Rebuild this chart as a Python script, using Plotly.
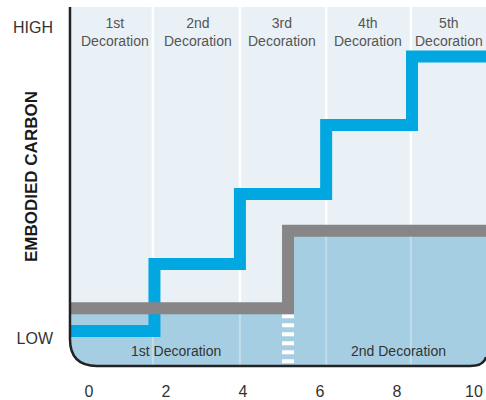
import plotly.graph_objects as go

# ---- data ----
x_ticks = [0, 2, 4, 6, 8, 10]
y_tick_vals = [7.8, 94.2]
y_tick_text = ["LOW", "HIGH"]

# blue step line (horizontal-then-vertical steps)
blue_x = [-0.494, 1.70, 3.92, 6.16, 8.39, 10.6]
blue_y = [9.75, 28.4, 47.9, 67.1, 86.2, 86.2]

# gray step line
gray_x = [-0.494, 5.17, 10.6]
gray_y = [16.1, 37.7, 37.7]

column_edges = [1.66, 3.92, 6.16, 8.36]
top_label_x = [0.675, 2.83, 5.01, 7.25, 9.35]
top_labels = ["1st<br>Decoration", "2nd<br>Decoration", "3rd<br>Decoration",
              "4th<br>Decoration", "5th<br>Decoration"]
bottom_label_x = [2.26, 8.03]
bottom_labels = ["1st Decoration", "2nd Decoration"]

# ---- styling / geometry ----
W, H = 486, 400
ML, MR, MT, MB = 66, 0, 7, 30
X0PX, XSCALE = 89.0, 38.5           # pixel of x=0, px per unit
YBOT = 366.0; YSCALE = 3.59          # pixel of y=0, px per unit
xr = [(ML - X0PX) / XSCALE, (W - MR - X0PX) / XSCALE]
yr = [(YBOT - (H - MB)) / YSCALE, (YBOT - MT) / YSCALE]

XL = -0.494          # left edge of panel (axis)
XR = xr[1]
R = 27
rx, ry = R / XSCALE, R / YSCALE
# right corner (partially cut by image edge)
xrc0 = (470 - X0PX) / XSCALE
xrcc = (484 - X0PX) / XSCALE
yrc1 = (YBOT - 357) / YSCALE

LIGHT = "#E9F1F7"
DARK = "#A6CEE3"
BLUE = "#00A7E1"
GRAY = "#878585"

def bottom_path():
    return (f"L {XL},{ry} Q {XL},0 {XL+rx},0 L {xrc0},0 Q {xrcc},0 {XR},{yrc1} ")

shapes = []
# light background
shapes.append(dict(type="path", layer="below", line=dict(width=0), fillcolor=LIGHT,
                   path=f"M {XL},{yr[1]} " + bottom_path() + f"L {XR},{yr[1]} Z"))
# white column dividers
for e in column_edges:
    shapes.append(dict(type="line", layer="below", x0=e, x1=e, y0=0, y1=yr[1],
                       line=dict(color="white", width=2.5)))
# dark fill under gray step line
p = f"M {XL},{gray_y[0]} " + bottom_path()
p += f"L {XR},{gray_y[-1]} "
p += f"L {gray_x[1]},{gray_y[1]} L {gray_x[1]},{gray_y[0]} L {XL},{gray_y[0]} Z"
shapes.append(dict(type="path", layer="below", line=dict(width=0), fillcolor=DARK, path=p))
# faint dividers over dark fill
for e in column_edges:
    shapes.append(dict(type="line", layer="below", x0=e, x1=e, y0=0, y1=yr[1],
                       line=dict(color="rgba(255,255,255,0.3)", width=2)))
# axis line with rounded corners
shapes.append(dict(type="path", layer="above", line=dict(color="#222222", width=2.5),
                   path=f"M {XL},{yr[1]} " + bottom_path()))

fig = go.Figure()
fig.add_trace(go.Scatter(x=blue_x, y=blue_y, mode="lines", line_shape="hv",
                         line=dict(color=BLUE, width=12), hoverinfo="skip"))
fig.add_trace(go.Scatter(x=[gray_x[1], gray_x[1]], y=[gray_y[0] - 1.7, 0], mode="lines",
                         line=dict(color="white", width=12, dash="4px,5px"), hoverinfo="skip"))
fig.add_trace(go.Scatter(x=gray_x, y=gray_y, mode="lines", line_shape="hv",
                         line=dict(color=GRAY, width=12), hoverinfo="skip"))

annotations = []
for x, t in zip(top_label_x, top_labels):
    annotations.append(dict(x=x, y=92.9, text=t, showarrow=False, xanchor="center",
                            yanchor="middle", font=dict(size=14, color="#555555")))
for x, t in zip(bottom_label_x, bottom_labels):
    annotations.append(dict(x=x, y=4.18, text=t, showarrow=False, xanchor="center",
                            yanchor="middle", font=dict(size=14, color="#333333")))
annotations.append(dict(xref="paper", yref="paper", x=-ML / (W - ML - MR) + 32 / (W - ML - MR),
                        y=(H - MB - 177) / (H - MT - MB), text="<b>EMBODIED CARBON</b>",
                        textangle=-90, showarrow=False, xanchor="center", yanchor="middle",
                        font=dict(size=17, color="#1a1a1a")))

fig.update_layout(
    width=W, height=H, margin=dict(l=ML, r=MR, t=MT, b=MB),
    paper_bgcolor="white", plot_bgcolor="white", showlegend=False,
    font=dict(family="Liberation Sans, Arial, sans-serif", color="#333333"),
    shapes=shapes, annotations=annotations,
    xaxis=dict(range=xr, tickvals=x_ticks, showgrid=False, zeroline=False, showline=False,
               ticks="", ticklabelstandoff=10, tickfont=dict(size=16, color="#333333")),
    yaxis=dict(range=yr, tickvals=y_tick_vals, ticktext=y_tick_text, showgrid=False,
               zeroline=False, showline=False, ticks="", ticklabelstandoff=12,
               tickfont=dict(size=16, color="#333333")),
)
fig.write_html("out.html", config={"displayModeBar": False},
               post_script="document.body.style.margin='0';document.body.style.overflow='hidden';")
